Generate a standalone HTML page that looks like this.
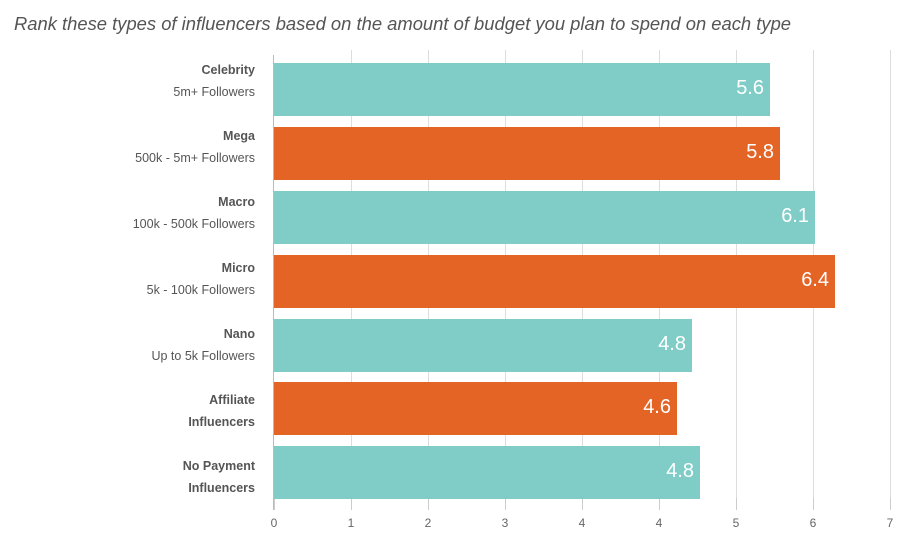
<!DOCTYPE html><html><head><style>
body{margin:0;width:923px;height:546px;background:#fff;font-family:"Liberation Sans",sans-serif;position:relative;overflow:hidden}
.t{position:absolute;left:14px;top:13px;font-size:18.4px;font-style:italic;color:#555}
.g{position:absolute;top:50px;height:460px;width:1px;background:#ddd}
.tk{position:absolute;top:498px;height:12px;width:1px;background:#ccc}
.xl{position:absolute;top:516px;font-size:12px;color:#666;width:20px;margin-left:-10px;text-align:center}
.b{position:absolute;left:274px;height:53px}
.v{position:absolute;right:6px;top:14px;color:#fff;font-size:20px}
.l{position:absolute;right:668px;text-align:right;font-size:12.5px;color:#555;line-height:22px}
.l b{color:#555}
</style></head><body>
<div class="t">Rank these types of influencers based on the amount of budget you plan to spend on each type</div>
<div class="g" style="left:351px"></div><div class="g" style="left:428px"></div><div class="g" style="left:505px"></div><div class="g" style="left:582px"></div><div class="g" style="left:659px"></div><div class="g" style="left:736px"></div><div class="g" style="left:813px"></div><div class="g" style="left:890px"></div>
<div style="position:absolute;left:273px;top:55px;width:1px;height:455px;background:#bbb"></div>
<div class="tk" style="left:274px"></div><div class="tk" style="left:351px"></div><div class="tk" style="left:428px"></div><div class="tk" style="left:505px"></div><div class="tk" style="left:582px"></div><div class="tk" style="left:659px"></div><div class="tk" style="left:736px"></div><div class="tk" style="left:813px"></div><div class="tk" style="left:890px"></div>
<div class="xl" style="left:274px">0</div><div class="xl" style="left:351px">1</div><div class="xl" style="left:428px">2</div><div class="xl" style="left:505px">3</div><div class="xl" style="left:582px">4</div><div class="xl" style="left:659px">4</div><div class="xl" style="left:736px">5</div><div class="xl" style="left:813px">6</div><div class="xl" style="left:890px">7</div>
<div class="b" style="top:63px;width:496px;background:#80cdc7"><span class="v">5.6</span></div>
<div class="b" style="top:127px;width:506px;background:#e46425"><span class="v">5.8</span></div>
<div class="b" style="top:191px;width:541px;background:#80cdc7"><span class="v">6.1</span></div>
<div class="b" style="top:255px;width:561px;background:#e46425"><span class="v">6.4</span></div>
<div class="b" style="top:319px;width:418px;background:#80cdc7"><span class="v">4.8</span></div>
<div class="b" style="top:382px;width:403px;background:#e46425"><span class="v">4.6</span></div>
<div class="b" style="top:446px;width:426px;background:#80cdc7"><span class="v">4.8</span></div>
<div class="l" style="top:59px"><b>Celebrity</b><br>5m+ Followers</div>
<div class="l" style="top:125px"><b>Mega</b><br>500k - 5m+ Followers</div>
<div class="l" style="top:191px"><b>Macro</b><br>100k - 500k Followers</div>
<div class="l" style="top:257px"><b>Micro</b><br>5k - 100k Followers</div>
<div class="l" style="top:323px"><b>Nano</b><br>Up to 5k Followers</div>
<div class="l" style="top:389px"><b>Affiliate</b><br><b>Influencers</b></div>
<div class="l" style="top:455px"><b>No Payment</b><br><b>Influencers</b></div>
</body></html>
